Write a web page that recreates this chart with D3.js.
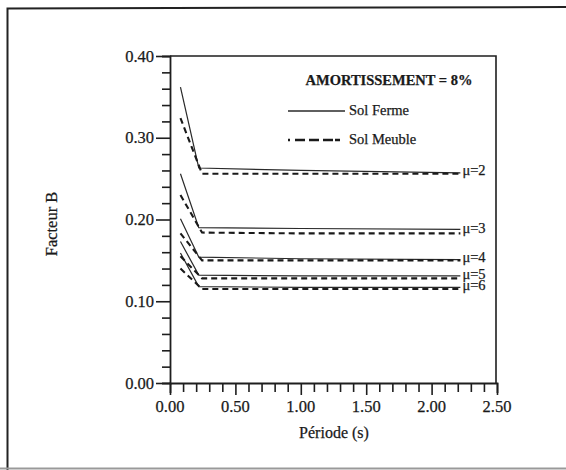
<!DOCTYPE html>
<html><head><meta charset="utf-8">
<script src="https://cdn.jsdelivr.net/npm/d3@7"></script>
<style>
body{margin:0;background:#fff;}
svg{display:block;}
text{font-family:"Liberation Serif","DejaVu Serif",serif;fill:#1a1a1a;stroke:#1a1a1a;stroke-width:0.25px;}
</style></head>
<body>
<svg id="c" width="566" height="470"></svg>
<script>
// ---- data ----
const ductilities = [2, 3, 4, 5, 6];
const periodsFerme = [0.08, 0.22, 1.0, 2.22];
const periodsMeuble = [0.08, 0.245, 1.0, 2.22];
const solFerme = [
  [0.362, 0.263, 0.260, 0.257],
  [0.256, 0.190, 0.189, 0.188],
  [0.201, 0.154, 0.152, 0.151],
  [0.173, 0.132, 0.131, 0.131],
  [0.159, 0.118, 0.117, 0.117]
];
const solMeuble = [
  [0.324, 0.256, 0.256, 0.256],
  [0.230, 0.184, 0.183, 0.183],
  [0.183, 0.150, 0.150, 0.150],
  [0.155, 0.128, 0.128, 0.128],
  [0.140, 0.115, 0.115, 0.115]
];
const xTickLabels = ["0.00", "0.50", "1.00", "1.50", "2.00", "2.50"];
const yTickLabels = ["0.00", "0.10", "0.20", "0.30", "0.40"];
const title = "AMORTISSEMENT = 8%";
const legendNames = ["Sol Ferme", "Sol Meuble"];

// ---- layout ----
const svg = d3.select("#c");
const L = 170, R = 497, T = 56, B = 383;
const x = d3.scaleLinear().domain([0, 2.5]).range([L, R]);
const y = d3.scaleLinear().domain([0, 0.4]).range([B, T]);
const ink = "#1e1e1e";

// outer frame (left, top, bottom)
svg.append("path").attr("d", "M7.5,470 L7.5,8.5 L566,7")
  .attr("fill", "none").attr("stroke", "#222").attr("stroke-width", 2);
svg.append("line").attr("x1", 0).attr("x2", 566).attr("y1", 468.5).attr("y2", 468.5)
  .attr("stroke", "#999").attr("stroke-width", 2);

// plot box: top & right
svg.append("path").attr("d", `M${L},${T} L${R-1},${T} L${R-1},${B}`)
  .attr("fill", "none").attr("stroke", ink).attr("stroke-width", 1.6);

// x axis
const xMinor = d3.range(0, 26).map(i => i / 10);
const xAxis = d3.axisBottom(x).tickValues(xMinor)
  .tickSize(10).tickFormat(() => "");
const gx = svg.append("g").attr("transform", `translate(0,${B})`).call(xAxis);
gx.select(".domain").attr("stroke", ink).attr("stroke-width", 1.8);
gx.selectAll(".tick line").attr("stroke", ink).attr("stroke-width", 1.6)
  .attr("y2", d => (Math.round(d * 10) % 5 === 0 ? 12 : 9));
svg.append("g").selectAll("text").data(xTickLabels).join("text")
  .attr("x", d => x(+d)).attr("y", 412).attr("text-anchor", "middle")
  .attr("font-size", 16.5).text(d => d);

// y axis
const yMinor = d3.range(0, 21).map(i => i / 50);
const yAxis = d3.axisLeft(y).tickValues(yMinor).tickSize(8).tickFormat(() => "");
const gy = svg.append("g").attr("transform", `translate(${L},0)`).call(yAxis);
gy.select(".domain").attr("stroke", ink).attr("stroke-width", 1.8);
gy.selectAll(".tick line").attr("stroke", ink).attr("stroke-width", 1.6)
  .attr("x2", d => (Math.round(d * 50) % 5 === 0 ? -14 : -8));
svg.append("g").selectAll("text").data(yTickLabels).join("text")
  .attr("x", 154).attr("y", d => y(+d) + 5.5).attr("text-anchor", "end")
  .attr("font-size", 16.5).text(d => d);

// axis titles
svg.append("text").attr("transform", "translate(57,224) rotate(-90)")
  .attr("text-anchor", "middle").attr("font-size", 16.5).text("Facteur B");
svg.append("text").attr("x", 334).attr("y", 438).attr("text-anchor", "middle")
  .attr("font-size", 16).text("Période (s)");

// curves
const lineF = d3.line().x((d, i) => x(periodsFerme[i])).y(d => y(d));
const lineM = d3.line().x((d, i) => x(periodsMeuble[i])).y(d => y(d));
svg.append("g").selectAll("path").data(solFerme).join("path")
  .attr("d", lineF).attr("fill", "none").attr("stroke", "#2a2a2a").attr("stroke-width", 1.2);
svg.append("g").selectAll("path").data(solMeuble).join("path")
  .attr("d", lineM).attr("fill", "none").attr("stroke", "#1a1a1a")
  .attr("stroke-width", 2.1).attr("stroke-dasharray", "6,4");

// mu labels
svg.append("g").selectAll("text").data(ductilities).join("text")
  .attr("x", x(2.22) + 2)
  .attr("y", (d, i) => y((solFerme[i][3] + solMeuble[i][3]) / 2) + 2)
  .attr("font-size", 14.5).text(d => "\u03bc=" + d);

// legend
svg.append("text").attr("x", 389).attr("y", 85).attr("text-anchor", "middle")
  .attr("font-size", 14.5).attr("font-weight", "bold").attr("stroke-width", 0).text(title);
svg.append("line").attr("x1", 288).attr("x2", 345).attr("y1", 111).attr("y2", 111)
  .attr("stroke", "#2a2a2a").attr("stroke-width", 1.3);
svg.append("line").attr("x1", 288).attr("x2", 345).attr("y1", 140).attr("y2", 140)
  .attr("stroke", "#1a1a1a").attr("stroke-width", 2.3).attr("stroke-dasharray", "2,5,10,4,10,4,10");
svg.append("text").attr("x", 349).attr("y", 115).attr("font-size", 14.5)
  .text(legendNames[0]);
svg.append("text").attr("x", 349).attr("y", 144).attr("font-size", 14.5)
  .text(legendNames[1]);
</script>
</body></html>
